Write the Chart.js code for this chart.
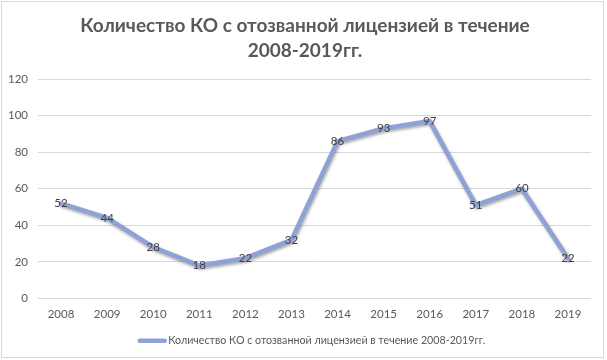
<!DOCTYPE html>
<html>
<head>
<meta charset="utf-8">
<script src="https://cdn.jsdelivr.net/npm/chart.js@4"></script>
<style>
html,body{margin:0;padding:0;background:#fff;}
#wrap{position:relative;width:607px;height:360px;}
</style>
</head>
<body>
<div id="wrap"><canvas id="c" width="607" height="360"></canvas></div>
<script>
const titleLines = ['Количество КО с отозванной лицензией в течение', '2008-2019гг.'];
const seriesName = 'Количество КО с отозванной лицензией в течение 2008-2019гг.';
const years = ['2008','2009','2010','2011','2012','2013','2014','2015','2016','2017','2018','2019'];
const revoked = [52, 44, 28, 18, 22, 32, 86, 93, 97, 51, 60, 22];
const yTicks = [0, 20, 40, 60, 80, 100, 120];

const FONT = 'Lato, "Liberation Sans", sans-serif';
const LINE = '#8fa2d6';
const TEXT = '#595959';

const framePlugin = {
  id: 'frame',
  beforeDraw(chart) {
    const ctx = chart.ctx;
    ctx.save();
    ctx.fillStyle = '#fff';
    ctx.fillRect(0, 0, chart.width, chart.height);
    ctx.strokeStyle = '#d9d9d9';
    ctx.lineWidth = 1;
    ctx.strokeRect(1.5, 1.5, 602, 356);
    ctx.restore();
  }
};

const titlePlugin = {
  id: 'customTitle',
  afterDraw(chart) {
    const ctx = chart.ctx;
    ctx.save();
    ctx.font = 'bold 19px ' + FONT;
    ctx.fillStyle = TEXT;
    ctx.textAlign = 'center';
    ctx.textBaseline = 'middle';
    const cx = 305;
    ctx.fillText(titleLines[0], cx, 26);
    ctx.fillText(titleLines[1], cx, 50.5);
    ctx.restore();
  }
};

const shadowPlugin = {
  id: 'lineShadow',
  beforeDatasetDraw(chart) {
    const ctx = chart.ctx;
    ctx.save();
    ctx.shadowColor = 'rgba(0,0,0,0.35)';
    ctx.shadowBlur = 3;
    ctx.shadowOffsetX = 1;
    ctx.shadowOffsetY = 2;
  },
  afterDatasetDraw(chart) {
    chart.ctx.restore();
  }
};

const labelPlugin = {
  id: 'pointLabels',
  afterDatasetsDraw(chart) {
    const ctx = chart.ctx;
    const meta = chart.getDatasetMeta(0);
    ctx.save();
    ctx.font = '11.5px ' + FONT;
    ctx.fillStyle = '#404040';
    ctx.textAlign = 'center';
    ctx.textBaseline = 'middle';
    meta.data.forEach((pt, i) => {
      ctx.fillText(String(chart.data.datasets[0].data[i]), pt.x, pt.y);
    });
    ctx.restore();
  }
};

const legendPlugin = {
  id: 'customLegend',
  afterDraw(chart) {
    const ctx = chart.ctx;
    const ds = chart.data.datasets[0];
    ctx.save();
    ctx.font = '10.7px ' + FONT;
    const tw = ctx.measureText(ds.label).width;
    const lineW = 29, gap = 1.5;
    const total = lineW + gap + tw;
    const x0 = (chart.chartArea.left + chart.chartArea.right) / 2 - total / 2 - 3;
    const y = 340.7;
    ctx.strokeStyle = ds.borderColor;
    ctx.lineWidth = 4.5;
    ctx.lineCap = 'round';
    ctx.beginPath();
    ctx.moveTo(x0 + 2, y);
    ctx.lineTo(x0 + lineW - 2, y);
    ctx.stroke();
    ctx.fillStyle = TEXT;
    ctx.textAlign = 'left';
    ctx.textBaseline = 'middle';
    ctx.fillText(ds.label, x0 + lineW + gap, y);
    ctx.restore();
  }
};

new Chart(document.getElementById('c'), {
  type: 'line',
  data: {
    labels: years,
    datasets: [{
      label: seriesName,
      data: revoked,
      borderColor: LINE,
      backgroundColor: LINE,
      borderWidth: 4.5,
      pointRadius: 0,
      tension: 0,
      borderJoinStyle: 'round',
      borderCapStyle: 'round'
    }]
  },
  options: {
    responsive: false,
    animation: false,
    devicePixelRatio: 1,
    layout: { padding: { left: 0, right: 16, top: 79, bottom: 29.8 } },
    plugins: {
      title: { display: false },
      legend: { display: false },
      tooltip: { enabled: false }
    },
    scales: {
      x: {
        offset: true,
        grid: { display: false, drawTicks: false },
        border: { display: false },
        ticks: { color: TEXT, font: { family: FONT, size: 11.5 }, padding: 9, maxRotation: 0 }
      },
      y: {
        min: 0,
        max: 120,
        afterBuildTicks(axis) { axis.ticks = yTicks.map(v => ({ value: v })); },
        afterFit(axis) { axis.width = 38; },
        grid: { color: '#d9d9d9', drawTicks: false },
        border: { display: false },
        ticks: { color: TEXT, font: { family: FONT, size: 11.5 }, padding: 10 }
      }
    }
  },
  plugins: [framePlugin, shadowPlugin, labelPlugin, legendPlugin, titlePlugin]
});
</script>
</body>
</html>
